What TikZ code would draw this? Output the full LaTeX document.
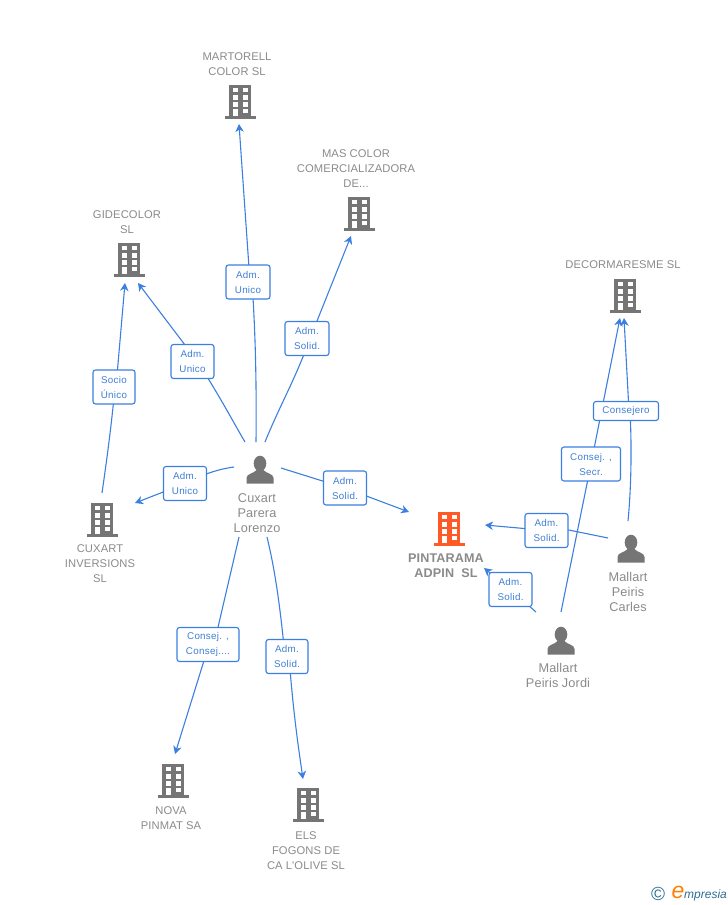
\documentclass[tikz,border=0pt]{standalone}
\usepackage{fontspec}
\setmainfont{Liberation Sans}
\newfontfamily\tagfont[LetterSpace=3]{Liberation Sans}
\newfontfamily\namefont[LetterSpace=1]{Liberation Sans}
\usetikzlibrary{arrows.meta,backgrounds}
\definecolor{lnk}{HTML}{3B7FE0}
\definecolor{lbl}{HTML}{3F7FD6}
\definecolor{txt}{HTML}{8A8A8A}
\definecolor{icon}{HTML}{757575}
\definecolor{hot}{HTML}{FF5A26}
\definecolor{logoblue}{HTML}{2F6F8F}
\tikzset{
  x=1pt,y=-1pt,
  conn/.style={draw=lnk,line width=1.1pt},
  arr/.style={conn,-{Stealth[length=8pt,width=8.5pt,inset=2.5pt]}},
  tag/.style={draw=lnk,line width=1.1pt,rounded corners=2.5pt,fill=white,text=lbl,
    font=\tagfont\fontsize{9.8}{15}\selectfont,align=center,inner sep=0pt},
  etxt/.style={text=txt,font=\namefont\fontsize{11.2}{15}\selectfont,align=center,inner sep=0pt},
  ptxt/.style={text=txt,font=\namefont\fontsize{12.7}{15}\selectfont,align=center,inner sep=0pt},
  pics/bld/.style={code={
    \fill[#1] (-11,-17) rectangle (11,14);
    \fill[#1] (-15.5,13.5) rectangle (15.5,16.5);
    \foreach \yy in {-14.5,-7,0}{
      \fill[white] (-7.5,\yy) rectangle (-2.5,\yy+4.5);
      \fill[white] (2.5,\yy) rectangle (7.5,\yy+4.5);}
    \fill[white] (-7.5,6.5) rectangle (-2.5,14);
    \fill[white] (2.5,6.5) rectangle (7.5,11);
  }},
  pics/man/.style={code={
    \fill[icon] (0,-6.5) ellipse (6.3 and 7.8);
    \fill[icon] (-13.5,13.5) -- (-13.5,8) .. controls (-13.5,3.5) and (-6,3.5) .. (-3.5,0)
      -- (3.5,0) .. controls (6,3.5) and (13.5,3.5) .. (13.5,8) -- (13.5,13.5) -- cycle;
  }}
}
\begin{document}
\begin{tikzpicture}
\useasboundingbox (0,0) rectangle (728,905);

% icons
\pic at (240,102) {bld=icon};
\pic at (359,214) {bld=icon};
\pic at (129,260) {bld=icon};
\pic at (625,296) {bld=icon};
\pic at (102,520) {bld=icon};
\pic at (449,529) {bld=hot};
\pic at (173,781) {bld=icon};
\pic at (308,805) {bld=icon};
\pic at (260,470) {man};
\pic at (631,549) {man};
\pic at (561,641) {man};

% entity names
\node[etxt] (nMart) at (237,64) {MARTORELL\\COLOR SL};
\node[etxt] (nMas) at (356,168.5) {MAS COLOR\\COMERCIALIZADORA\\DE...};
\node[etxt] (nGide) at (127,222) {GIDECOLOR\\SL};
\node[etxt] (nDeco) at (623,265) {DECORMARESME SL};
\node[etxt] (nInv) at (100,564) {CUXART\\INVERSIONS\\SL};
\node[etxt,font=\namefont\fontsize{12.6}{15.5}\selectfont\bfseries] (nPint) at (446,565.5) {PINTARAMA\\ADPIN\ \ SL};
\node[etxt] (nNova) at (171,818) {NOVA\\PINMAT SA};
\node[etxt] (nEls) at (306,850.5) {ELS\\FOGONS DE\\CA L'OLIVE SL};
\node[ptxt] (nCux) at (257,513.5) {Cuxart\\Parera\\Lorenzo};
\node[ptxt] (nCar) at (628,591.5) {Mallart\\Peiris\\Carles};
\node[ptxt] (nJor) at (558,675.5) {Mallart\\Peiris Jordi};

% connector labels
\node[tag,minimum width=44pt,minimum height=34pt] (l1) at (248,282) {Adm.\\Unico};
\node[tag,minimum width=44pt,minimum height=34pt] (l2) at (307,338.5) {Adm.\\Solid.};
\node[tag,minimum width=43pt,minimum height=34pt] (l3) at (192.5,361.5) {Adm.\\Unico};
\node[tag,minimum width=42pt,minimum height=34pt] (l4) at (114,387) {Socio\\Único};
\node[tag,minimum width=43pt,minimum height=34pt] (l5) at (185,483.5) {Adm.\\Unico};
\node[tag,minimum width=43pt,minimum height=34pt] (l6) at (345,488) {Adm.\\Solid.};
\node[tag,minimum width=62pt,minimum height=34pt] (l7) at (208,644.5) {Consej. ,\\Consej....};
\node[tag,minimum width=42pt,minimum height=34pt] (l8) at (287,656.5) {Adm.\\Solid.};
\node[tag,minimum width=43pt,minimum height=34pt] (l9) at (546.5,530.5) {Adm.\\Solid.};
\node[tag,minimum width=43pt,minimum height=34pt] (l10) at (510.5,589.5) {Adm.\\Solid.};
\node[tag,minimum width=59pt,minimum height=34pt] (l11) at (591,464) {Consej. ,\\Secr.};
\node[tag,minimum width=65pt,minimum height=19pt] (l12) at (626,411) {Consejero};

% free ends
\coordinate (cT) at (256,442);
\coordinate (cTR) at (265,442);
\coordinate (cTL) at (245,442);
\coordinate (cL) at (234,467);
\coordinate (cR) at (281,468);
\coordinate (cBL) at (239,537);
\coordinate (cBR) at (267,537);
\coordinate (invT) at (102,493);
\coordinate (carL) at (608,538);
\coordinate (carT) at (628,521);
\coordinate (jorL) at (536,612);
\coordinate (jorT) at (561,612);
\coordinate (aMart) at (239,124);
\coordinate (aMas) at (351,236);
\coordinate (aGide1) at (138,283);
\coordinate (aGide2) at (125,283);
\coordinate (aInv) at (135,503);
\coordinate (aPint1) at (409,512);
\coordinate (aPint2) at (485,525);
\coordinate (aPint3) at (484,568);
\coordinate (aNova) at (175,754);
\coordinate (aEls) at (303,779);
\coordinate (aDeco1) at (620,318);
\coordinate (aDeco2) at (624,318);

% connectors, behind the labels
\begin{scope}[on background layer]
\draw[conn] (cT) .. controls (256.5,395) and (256,340) .. ([xshift=4pt]l1.center);
\draw[arr] ([xshift=2pt]l1.center) -- (aMart);
\draw[conn] (cTR) .. controls (280,405) and (295,380) .. ([xshift=3pt]l2.center);
\draw[arr] ([xshift=3pt]l2.center) -- (aMas);
\draw[conn] (cTL) .. controls (232,420) and (222,400) .. ([xshift=5pt]l3.center);
\draw[arr] ([xshift=5pt]l3.center) -- (aGide1);
\draw[conn] (invT) .. controls (106,465) and (111,430) .. ([xshift=1pt]l4.center);
\draw[arr] ([xshift=2pt]l4.center) -- (aGide2);
\draw[conn] (cL) .. controls (222,468.5) and (205,473) .. (l5.center);
\draw[arr] (l5.center) -- (aInv);
\draw[conn] (cR) -- (l6.center);
\draw[arr] (l6.center) -- (aPint1);
\draw[conn] (cBL) -- ([xshift=6pt]l7.center);
\draw[arr] ([xshift=1pt]l7.center) -- (aNova);
\draw[conn] (cBR) .. controls (275,570) and (280,605) .. ([xshift=-2pt]l8.center);
\draw[arr] ([xshift=2pt]l8.center) .. controls (293,710) and (298,745) .. (aEls);
\draw[conn] (carL) -- ([yshift=5pt]l9.center);
\draw[arr] (l9.center) -- (aPint2);
\draw[conn] (jorL) -- (l10.center);
\draw[arr] (l10.center) -- (aPint3);
\draw[conn] (jorT) -- (l11.center);
\draw[arr] (l11.center) -- (aDeco1);
\draw[conn] (carT) .. controls (631,490) and (632,450) .. ([xshift=4pt]l12.center);
\draw[arr] ([xshift=3pt]l12.center) -- (aDeco2);
\end{scope}

% logo
\node[text=logoblue,font=\fontsize{19}{19}\selectfont,inner sep=0pt] (logoC) at (658,894) {©};
\node[text=orange,font=\fontsize{23}{23}\selectfont\itshape,inner sep=0pt] (logoE) at (678,892) {e};
\node[text=logoblue,font=\fontsize{12}{12}\selectfont\itshape,inner sep=0pt,anchor=west] (logoT) at (684,895.5) {mpresia};
\end{tikzpicture}
\end{document}
